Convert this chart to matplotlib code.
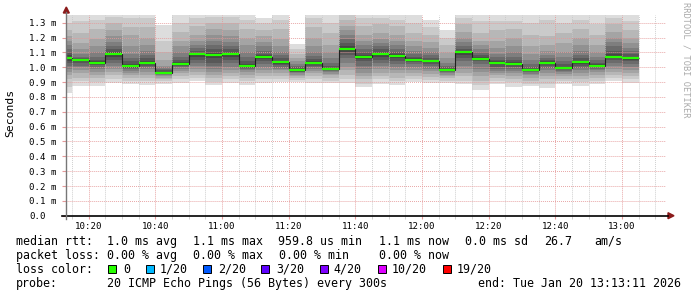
import matplotlib
matplotlib.use("Agg")
import matplotlib.pyplot as plt
import matplotlib.dates as mdates
from matplotlib.patches import Rectangle, Polygon
from matplotlib.lines import Line2D
from matplotlib.ticker import FuncFormatter
from datetime import datetime, timedelta

W, H = 697, 297
MONO = "DejaVu Sans Mono"

# --- data (ms) ---
t_start = datetime(2026, 1, 20, 10, 13, 11)
t_end = datetime(2026, 1, 20, 13, 13, 11)
step_end = [datetime(2026, 1, 20, 10, 15) + timedelta(minutes=5 * i) for i in range(35)]

median_ms = [1.064, 1.049, 1.031, 1.087, 1.008, 1.031, 0.963, 1.024, 1.091, 1.082,
             1.091, 1.008, 1.071, 1.035, 0.979, 1.031, 0.990, 1.123, 1.071, 1.091,
             1.078, 1.051, 1.042, 0.981, 1.100, 1.058, 1.031, 1.024, 0.983, 1.031,
             0.995, 1.033, 1.010, 1.071, 1.060]

# 20 sorted ping rtts per 5 min step
pings_ms = [
    [0.824, 0.87, 0.92, 0.95, 0.97, 0.99, 1.01, 1.03, 1.045, 1.06, 1.068, 1.08, 1.10, 1.12, 1.15, 1.18, 1.21, 1.25, 1.30, 1.36],
    [0.872, 0.91, 0.93, 0.96, 0.98, 1.00, 1.01, 1.03, 1.04, 1.047, 1.051, 1.055, 1.06, 1.07, 1.09, 1.12, 1.16, 1.23, 1.31, 1.40],
    [0.872, 0.90, 0.93, 0.95, 0.97, 0.99, 1.00, 1.015, 1.025, 1.029, 1.033, 1.04, 1.05, 1.07, 1.10, 1.14, 1.19, 1.26, 1.32, 1.42],
    [0.895, 0.92, 0.95, 0.97, 0.99, 1.01, 1.03, 1.05, 1.07, 1.085, 1.089, 1.10, 1.12, 1.14, 1.17, 1.21, 1.25, 1.30, 1.34, 1.40],
    [0.89, 0.91, 0.93, 0.95, 0.96, 0.975, 0.99, 0.995, 1.002, 1.006, 1.010, 1.02, 1.04, 1.06, 1.09, 1.14, 1.22, 1.27, 1.33, 1.40],
    [0.88, 0.91, 0.93, 0.95, 0.97, 0.99, 1.00, 1.01, 1.02, 1.029, 1.033, 1.045, 1.06, 1.08, 1.11, 1.15, 1.20, 1.27, 1.33, 1.40],
    [0.89, 0.905, 0.92, 0.93, 0.94, 0.95, 0.955, 0.958, 0.960, 0.962, 0.964, 0.97, 0.98, 0.99, 1.00, 1.01, 1.05, 1.10, 1.18, 1.284],
    [0.895, 0.92, 0.94, 0.96, 0.975, 0.99, 1.00, 1.01, 1.018, 1.022, 1.026, 1.035, 1.05, 1.07, 1.10, 1.14, 1.18, 1.24, 1.30, 1.40],
    [0.91, 0.93, 0.95, 0.97, 0.99, 1.01, 1.03, 1.05, 1.07, 1.088, 1.094, 1.10, 1.11, 1.13, 1.15, 1.18, 1.22, 1.28, 1.33, 1.40],
    [0.88, 0.90, 0.93, 0.95, 0.97, 0.99, 1.01, 1.03, 1.06, 1.078, 1.086, 1.10, 1.12, 1.15, 1.18, 1.22, 1.26, 1.30, 1.34, 1.42],
    [0.895, 0.92, 0.94, 0.96, 0.98, 1.00, 1.03, 1.05, 1.07, 1.088, 1.094, 1.10, 1.12, 1.14, 1.17, 1.21, 1.25, 1.30, 1.34, 1.40],
    [0.88, 0.91, 0.93, 0.95, 0.965, 0.98, 0.99, 0.998, 1.003, 1.006, 1.010, 1.02, 1.04, 1.07, 1.10, 1.15, 1.20, 1.26, 1.32, 1.40],
    [0.895, 0.92, 0.94, 0.96, 0.98, 1.00, 1.02, 1.04, 1.055, 1.068, 1.074, 1.08, 1.09, 1.11, 1.14, 1.17, 1.21, 1.25, 1.30, 1.329],
    [0.90, 0.92, 0.94, 0.96, 0.98, 0.99, 1.00, 1.015, 1.025, 1.033, 1.037, 1.045, 1.06, 1.08, 1.10, 1.14, 1.19, 1.26, 1.32, 1.40],
    [0.90, 0.915, 0.93, 0.94, 0.95, 0.96, 0.965, 0.970, 0.975, 0.977, 0.981, 0.99, 1.00, 1.01, 1.02, 1.04, 1.06, 1.09, 1.12, 1.156],
    [0.895, 0.92, 0.94, 0.96, 0.975, 0.99, 1.00, 1.01, 1.02, 1.029, 1.033, 1.04, 1.055, 1.075, 1.10, 1.14, 1.20, 1.27, 1.33, 1.40],
    [0.895, 0.91, 0.93, 0.945, 0.955, 0.965, 0.975, 0.98, 0.985, 0.988, 0.992, 1.00, 1.01, 1.03, 1.06, 1.10, 1.15, 1.23, 1.30, 1.40],
    [0.895, 0.92, 0.95, 0.98, 1.00, 1.03, 1.06, 1.08, 1.10, 1.12, 1.126, 1.14, 1.16, 1.19, 1.22, 1.25, 1.28, 1.32, 1.36, 1.42],
    [0.869, 0.89, 0.92, 0.94, 0.96, 0.99, 1.01, 1.04, 1.055, 1.068, 1.074, 1.08, 1.10, 1.12, 1.15, 1.18, 1.22, 1.28, 1.33, 1.40],
    [0.89, 0.92, 0.94, 0.96, 0.99, 1.01, 1.03, 1.05, 1.07, 1.088, 1.094, 1.10, 1.12, 1.14, 1.16, 1.19, 1.23, 1.29, 1.33, 1.40],
    [0.88, 0.91, 0.93, 0.96, 0.98, 1.00, 1.02, 1.04, 1.06, 1.075, 1.081, 1.09, 1.10, 1.12, 1.15, 1.18, 1.22, 1.28, 1.32, 1.40],
    [0.90, 0.92, 0.94, 0.96, 0.98, 1.00, 1.02, 1.035, 1.045, 1.049, 1.053, 1.06, 1.07, 1.09, 1.11, 1.14, 1.18, 1.23, 1.30, 1.40],
    [0.895, 0.915, 0.935, 0.955, 0.975, 0.99, 1.01, 1.025, 1.035, 1.040, 1.044, 1.05, 1.06, 1.08, 1.10, 1.13, 1.17, 1.22, 1.27, 1.32],
    [0.895, 0.91, 0.925, 0.94, 0.95, 0.96, 0.97, 0.975, 0.978, 0.980, 0.982, 0.99, 1.00, 1.01, 1.03, 1.06, 1.10, 1.15, 1.20, 1.248],
    [0.89, 0.91, 0.94, 0.96, 0.99, 1.01, 1.04, 1.06, 1.08, 1.097, 1.103, 1.11, 1.12, 1.14, 1.17, 1.20, 1.24, 1.29, 1.33, 1.40],
    [0.847, 0.88, 0.91, 0.94, 0.97, 0.99, 1.02, 1.04, 1.05, 1.056, 1.060, 1.07, 1.08, 1.10, 1.12, 1.15, 1.18, 1.23, 1.31, 1.40],
    [0.885, 0.91, 0.93, 0.95, 0.96, 0.975, 0.99, 1.00, 1.02, 1.029, 1.033, 1.04, 1.05, 1.07, 1.09, 1.13, 1.18, 1.25, 1.31, 1.35],
    [0.87, 0.90, 0.92, 0.94, 0.96, 0.975, 0.99, 1.00, 1.015, 1.022, 1.026, 1.035, 1.05, 1.07, 1.10, 1.14, 1.20, 1.26, 1.31, 1.35],
    [0.872, 0.89, 0.91, 0.93, 0.945, 0.955, 0.965, 0.972, 0.978, 0.981, 0.985, 0.99, 1.00, 1.02, 1.05, 1.09, 1.14, 1.22, 1.30, 1.40],
    [0.862, 0.89, 0.92, 0.94, 0.96, 0.98, 0.995, 1.01, 1.02, 1.029, 1.033, 1.04, 1.05, 1.06, 1.08, 1.11, 1.15, 1.21, 1.32, 1.40],
    [0.887, 0.905, 0.92, 0.94, 0.955, 0.965, 0.975, 0.985, 0.99, 0.993, 0.997, 1.005, 1.02, 1.04, 1.07, 1.10, 1.16, 1.23, 1.30, 1.40],
    [0.872, 0.90, 0.92, 0.94, 0.96, 0.98, 0.995, 1.01, 1.02, 1.031, 1.035, 1.045, 1.06, 1.08, 1.11, 1.15, 1.20, 1.26, 1.32, 1.40],
    [0.89, 0.91, 0.93, 0.95, 0.965, 0.98, 0.99, 1.00, 1.005, 1.008, 1.012, 1.02, 1.03, 1.05, 1.07, 1.10, 1.15, 1.22, 1.29, 1.40],
    [0.91, 0.93, 0.95, 0.97, 0.99, 1.01, 1.03, 1.05, 1.06, 1.068, 1.074, 1.09, 1.11, 1.14, 1.17, 1.20, 1.24, 1.29, 1.33, 1.40],
    [0.895, 0.92, 0.94, 0.96, 0.98, 1.00, 1.02, 1.04, 1.05, 1.058, 1.062, 1.07, 1.09, 1.11, 1.13, 1.16, 1.20, 1.25, 1.31, 1.36],
]

stats_rtt = ["1.0 ms avg", "1.1 ms max", "959.8 us min", "1.1 ms now", "0.0 ms sd", "26.7", "am/s"]
stats_loss = ["0.00 % avg", "0.00 % max", "0.00 % min", "0.00 % now"]
loss_labels = ["0", "1/20", "2/20", "3/20", "4/20", "10/20", "19/20"]
loss_colors = ["#26ff00", "#00b8ff", "#0059ff", "#5e00ff", "#7e00ff", "#dd00ff", "#ff0000"]
probe_text = "20 ICMP Echo Pings (56 Bytes) every 300s"
end_text = "end: Tue Jan 20 13:13:11 2026"


def fx(x):
    return x / W


def fy(y):
    return 1 - y / H


fig = plt.figure(figsize=(W / 100, H / 100), dpi=100)
ax = fig.add_axes([fx(66), fy(215.7), 600 / W, (215.7 - 14.7) / H])

edges = [mdates.date2num(t - timedelta(minutes=5)) for t in step_end]
edges.append(mdates.date2num(step_end[-1]))

# smoke: band k between ping k and ping 19-k, darker towards the middle
for k in range(10):
    grey = int(190 / 10 * (10 - (k + 1))) + 50
    col = "#%02x%02x%02x" % (grey, grey, grey)
    lo = [p[k] for p in pings_ms]
    hi = [p[19 - k] for p in pings_ms]
    ax.fill_between(edges, lo + [lo[-1]], hi + [hi[-1]], step="post",
                    color=col, linewidth=0, zorder=1)

# median
ax.stairs(median_ms, edges, baseline=None, color="#202020", linewidth=0.8, zorder=3)
ax.hlines(median_ms, edges[:-1], edges[1:], color=loss_colors[0], linewidth=1.6,
          capstyle="butt", zorder=4)

ax.set_xlim(mdates.date2num(t_start), mdates.date2num(t_end))
ax.set_ylim(0, 1.354)

ax.xaxis.set_major_locator(mdates.MinuteLocator(byminute=[0, 20, 40]))
ax.xaxis.set_minor_locator(mdates.MinuteLocator(byminute=range(0, 60, 5)))
ax.xaxis.set_major_formatter(mdates.DateFormatter("%H:%M"))

yt = [i / 10 for i in range(14)]
ax.set_yticks(yt)
ax.yaxis.set_major_formatter(FuncFormatter(lambda v, p: "0.0" if v == 0 else "%.1f m" % v))

ax.grid(which="major", axis="both", color="#e59a9a", linestyle=(0, (1, 1.2)), linewidth=0.65, zorder=2)
ax.grid(which="minor", axis="x", color="#c8c8c8", linestyle=(0, (1, 1.2)), linewidth=0.65, zorder=2)
ax.set_axisbelow(False)

for s in ax.spines.values():
    s.set_visible(False)

ax.tick_params(axis="x", which="major", length=2.5, color="#e59a9a", pad=2.2,
               labelsize=6.6, labelfontfamily=MONO)
ax.tick_params(axis="x", which="minor", length=2.5, color="#c8c8c8")
ax.tick_params(axis="y", which="major", length=3, color="#e59a9a", pad=23.3,
               labelsize=6.6, labelfontfamily=MONO)
for lab in ax.get_yticklabels():
    lab.set_horizontalalignment("left")

# axis lines with arrows
fig.add_artist(Line2D([fx(62), fx(668)], [fy(215.7), fy(215.7)], color="#000000", linewidth=1.2))
fig.add_artist(Line2D([fx(66.3), fx(66.3)], [fy(219), fy(12)], color="#777777", linewidth=1.0))
fig.add_artist(Polygon([[fx(668), fy(212.7)], [fx(674), fy(215.7)], [fx(668), fy(218.7)]],
                       closed=True, color="#8b1a1a", transform=fig.transFigure))
fig.add_artist(Polygon([[fx(63.3), fy(13)], [fx(66.3), fy(7)], [fx(69.3), fy(13)]],
                       closed=True, color="#8b1a1a", transform=fig.transFigure))

fig.text(fx(10.5), fy(113), "Seconds", rotation=90, ha="center", va="center",
         fontsize=8.2, family=MONO)
fig.text(fx(686), fy(60), "RRDTOOL / TOBI OETIKER", rotation=270, ha="center", va="center",
         fontsize=6.2, family=MONO, color="#aaaaaa")

# legend block
fs = 8.4
y1, y2, y3, y4 = 241.5, 255.5, 269.2, 283.3
fig.text(fx(16.3), fy(y1), "median rtt:", fontsize=fs, family=MONO, va="center")
for s, x in zip(stats_rtt, [107, 193, 278, 379, 465, 544, 594]):
    fig.text(fx(x), fy(y1), s, fontsize=fs, family=MONO, va="center")

fig.text(fx(16.3), fy(y2), "packet loss:", fontsize=fs, family=MONO, va="center")
for s, x in zip(stats_loss, [107, 193, 279, 379]):
    fig.text(fx(x), fy(y2), s, fontsize=fs, family=MONO, va="center")

fig.text(fx(16.3), fy(y3), "loss color:", fontsize=fs, family=MONO, va="center")
for lab, c, xb, xt in zip(loss_labels, loss_colors,
                          [108.3, 145.7, 203.3, 261, 320, 377.7, 442.7],
                          [123, 160, 218, 276, 333, 391.5, 456.5]):
    fig.add_artist(Rectangle((fx(xb), fy(273)), 8 / W, 8 / H, facecolor=c,
                             edgecolor="#000000", linewidth=0.7, transform=fig.transFigure))
    fig.text(fx(xt), fy(y3), lab, fontsize=fs, family=MONO, va="center")

fig.text(fx(16.3), fy(y4), "probe:", fontsize=fs, family=MONO, va="center")
fig.text(fx(107), fy(y4), probe_text, fontsize=fs, family=MONO, va="center")
fig.text(fx(478), fy(y4), end_text, fontsize=fs, family=MONO, va="center")

fig.savefig("out.png", dpi=100)
plt.close(fig)
